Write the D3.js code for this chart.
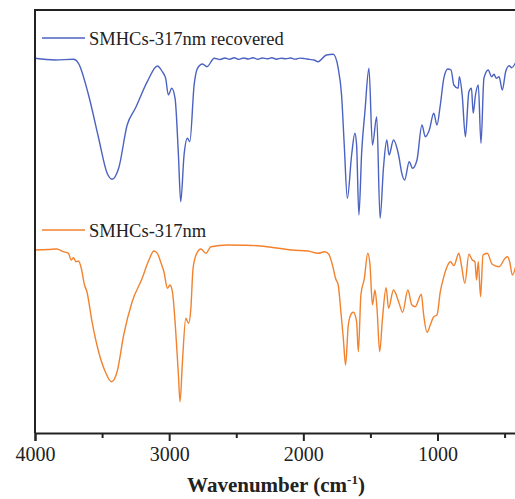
<!DOCTYPE html>
<html>
<head>
<meta charset="utf-8">
<script src="https://cdn.jsdelivr.net/npm/d3@7"></script>
<style>
	body { margin: 0; background: #fff; }
	svg { display: block; }
</style>
</head>
<body>
<div id="chart"></div>
<script>

// wavenumber (cm-1) and transmittance (a.u., offset)
var wn_recovered = [4000,3850,3713,3676,3601,3526,3463,3425,3376,3313,3251,3163,3088,3051,3026,3006,2981,2956,2931,2914,2889,2864,2846,2814,2789,2751,2719,2664,
	2620,2585,2550,2515,2480,2445,2410,2375,2340,2305,2270,2235,2200,2165,2130,2095,2060,2025,1990,1955,1920,
	1890,1828,1777,1740,1715,1695,1672,1640,1616,1603,1586,1565,1541,1511,1485,1453,1428,1403,1378,1361,1328,1290,1266,1245,1211,1186,1153,1116,1091,1061,1028,1004,979,953,923,899,878,846,837,816,792,766,747,734,717,696,676,654,622,597,579,562,541,517,492,466,447,404];
var val_recovered = [374.7,373,373.7,369.7,338,295,260,253.7,265,308,325,351.3,367,361.3,354.7,338,344.7,334.7,278,231.3,278,294.7,291.3,348,364.7,369,366.3,374.7,
	373.5,375,373.8,375.2,373.6,375,374,375.3,373.7,375,374.2,375.2,373.8,374.8,374.2,375,373.9,374.9,374.4,373.6,373,
	371.3,378,378.7,364.7,338,288,234.7,278,299.7,288,218,281.3,321.3,364.7,288,316.3,214.7,264.7,293,278,293,278,259.7,253,271.3,264.7,273,308,296.3,303,319.7,308,328,354.7,364,363,348,344.7,356.3,338,296.3,341.3,344.7,319.7,338,348,289.7,354.7,363,356.3,358.7,354.7,356.3,343,361.3,367.3,365.3,374.7];

var wn_original = [4000,3900,3837,3788,3751,3730,3713,3695,3676,3655,3631,3613,3575,3526,3476,3431,3388,3339,3276,3201,3151,3114,3088,3064,3039,3013,2994,2976,2951,2931,2919,2901,2876,2856,2839,2822,2794,2764,2726,2689,2564,2450,2339,2200,2090,1965,1890,1840,1810,1777,1760,1740,1720,1702,1685,1665,1640,1627,1603,1590,1571,1545,1520,1503,1485,1466,1451,1431,1410,1383,1365,1328,1290,1260,1221,1191,1166,1121,1103,1078,1054,1028,1004,979,953,929,904,878,841,822,796,766,741,721,709,696,679,661,629,592,541,496,479,462,442,412];
var val_original = [183,183.5,184,181.3,179.7,173,175.3,171.3,172,164.7,148,141.3,111.3,81.3,61.3,51.3,61.3,98,131.3,154.7,173,182,179.7,171.3,161.3,144.7,148,141.3,101.3,58,31.3,71.3,114.7,109.7,123,164.7,179.7,184,179.7,186.3,188,187.8,187.3,185,183,182,179.7,181.3,178.7,164.7,154.7,148,121.3,94.7,68,108,119.7,120.7,111.3,81.3,138,154.7,179.7,168,128,143,124.7,81.3,114.7,145.3,124.7,143,131.3,120.7,143,128,126.3,138.7,118,100.7,108,116.3,118,141.3,156.3,166.3,171.3,167.3,179.7,168,149.7,178.7,173,171.3,153,171.3,136.3,178,179.7,168.7,166.3,174.7,176.3,171.3,158,169.7];

var series_names = ["SMHCs-317nm recovered", "SMHCs-317nm"];
var series_colors = ["#4b62c2", "#f2822d"];

var major_ticks = [4000, 3000, 2000, 1000];
var minor_ticks = [3500, 2500, 1500, 500];


var width = 515, height = 499;
var margin = { top: 10, left: 35, bottom: 66, right: 0 };

var svg = d3.select("#chart").append("svg")
	.attr("width", width)
	.attr("height", height);

// x runs backwards, the plot frame is cut at the right edge
var x = d3.scaleLinear()
	.domain([4000, 400])
	.range([margin.left, 518]);

var y = d3.scaleLinear()
	.domain([0, 423])
	.range([height - margin.bottom, margin.top]);

// smooth the hand-read points a bit
var line = d3.line()
	.curve(d3.curveMonotoneX)
	.x(function(d) { return x(d[0]); })
	.y(function(d) { return y(d[1]); });

var data = [
	d3.zip(wn_recovered, val_recovered),
	d3.zip(wn_original, val_original)
];

svg.selectAll("path.trace")
	.data(data)
	.enter()
	.append("path")
	.attr("class", "trace")
	.attr("d", line)
	.attr("fill", "none")
	.attr("stroke", function(d, i) { return series_colors[i]; })
	.attr("stroke-width", 1.4)
	.attr("stroke-linejoin", "round");

// frame: left and top
svg.append("line")
	.attr("x1", margin.left).attr("x2", margin.left)
	.attr("y1", margin.top - 1).attr("y2", height - margin.bottom)
	.attr("stroke", "#222").attr("stroke-width", 2);
svg.append("line")
	.attr("x1", margin.left).attr("x2", width)
	.attr("y1", margin.top).attr("y2", margin.top)
	.attr("stroke", "#222").attr("stroke-width", 2);

// bottom axis, major + minor ticks
var xAxis = svg.append("g")
	.attr("transform", "translate(0," + (height - margin.bottom) + ")")
	.call(d3.axisBottom(x).tickValues(major_ticks).tickSize(8).tickPadding(6).tickFormat(d3.format("d")));
svg.append("g")
	.attr("transform", "translate(0," + (height - margin.bottom) + ")")
	.call(d3.axisBottom(x).tickValues(minor_ticks).tickSize(5).tickFormat(""))
	.select(".domain").remove();

svg.selectAll(".tick line").attr("stroke", "#222").attr("stroke-width", 2);
xAxis.select(".domain").attr("stroke", "#222").attr("stroke-width", 2);
xAxis.selectAll(".tick text")
	.attr("font-family", "'Liberation Serif', 'Times New Roman', serif")
	.attr("font-size", "20px")
	.attr("fill", "#222");

// axis title
var title = svg.append("text")
	.attr("x", 276)
	.attr("y", 492)
	.attr("text-anchor", "middle")
	.attr("font-family", "'Liberation Serif', 'Times New Roman', serif")
	.attr("font-weight", "bold")
	.attr("font-size", "21px")
	.attr("fill", "#222");
title.append("tspan").text("Wavenumber (cm");
title.append("tspan").attr("dy", -8).attr("font-size", "13px").text("-1");
title.append("tspan").attr("dy", 8).text(")");

// legends, one above each trace
var legend_y = [38, 230];
series_names.forEach(function(name, i) {
	svg.append("line")
		.attr("x1", 42).attr("x2", 85)
		.attr("y1", legend_y[i]).attr("y2", legend_y[i])
		.attr("stroke", series_colors[i])
		.attr("stroke-width", 1.4);
	svg.append("text")
		.attr("x", 89)
		.attr("y", legend_y[i] + 6.5)
		.attr("font-family", "'Liberation Serif', 'Times New Roman', serif")
		.attr("font-size", "18.5px")
		.attr("fill", "#222")
		.text(name);
});

</script>
</body>
</html>
